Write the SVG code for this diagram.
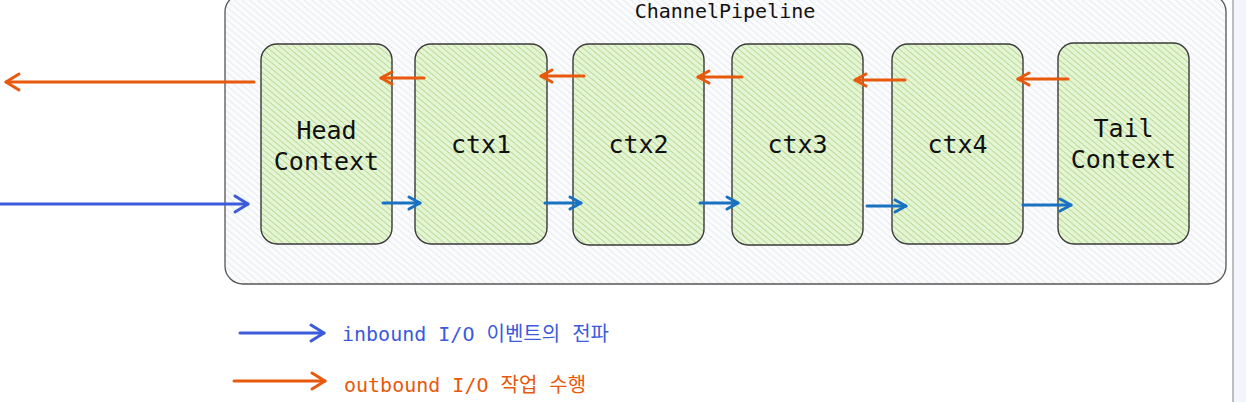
<svg xmlns="http://www.w3.org/2000/svg" width="1246" height="402" viewBox="0 0 1246 402">
  <defs>
    <pattern id="hatchGray" patternUnits="userSpaceOnUse" width="5" height="5" patternTransform="rotate(-50)">
      <rect width="5" height="5" fill="#fafbfc"/>
      <line x1="0" y1="0" x2="0" y2="5" stroke="#dcdfe3" stroke-width="1.2"/>
    </pattern>
    <pattern id="hatchGreen" patternUnits="userSpaceOnUse" width="4.5" height="4.5" patternTransform="rotate(-50)">
      <rect width="4.5" height="4.5" fill="#e6f4d6"/>
      <line x1="0" y1="0" x2="0" y2="4.5" stroke="#aad67f" stroke-width="1.5"/>
    </pattern>
    <marker id="arrOrange" markerUnits="userSpaceOnUse" markerWidth="20" markerHeight="22" refX="16" refY="11" orient="auto">
      <path d="M3,3 L16,11 L3,19" fill="none" stroke="#e8590c" stroke-width="3" stroke-linecap="round" stroke-linejoin="round"/>
    </marker>
    <marker id="arrOrangeS" markerUnits="userSpaceOnUse" markerWidth="18" markerHeight="18" refX="14" refY="9" orient="auto">
      <path d="M3,3 L14,9 L3,15" fill="none" stroke="#e8590c" stroke-width="3" stroke-linecap="round" stroke-linejoin="round"/>
    </marker>
    <marker id="arrBlueS" markerUnits="userSpaceOnUse" markerWidth="18" markerHeight="18" refX="14" refY="9" orient="auto">
      <path d="M3,3 L14,9 L3,15" fill="none" stroke="#1971c2" stroke-width="3" stroke-linecap="round" stroke-linejoin="round"/>
    </marker>
    <marker id="arrIndigo" markerUnits="userSpaceOnUse" markerWidth="20" markerHeight="22" refX="16" refY="11" orient="auto">
      <path d="M3,3 L16,11 L3,19" fill="none" stroke="#3b5bdb" stroke-width="3" stroke-linecap="round" stroke-linejoin="round"/>
    </marker>
  </defs>
  <style>
    .node rect { fill: url(#hatchGreen); stroke: #3a3a3a; stroke-width: 1.4; }
    .lbl { font-family: "DejaVu Sans Mono", "Liberation Mono", monospace; font-size: 25px; fill: #111; text-anchor: middle; }
    .title { font-family: "DejaVu Sans Mono", "Liberation Mono", monospace; font-size: 20px; fill: #111; text-anchor: middle; }
    .legend { font-family: "DejaVu Sans Mono", "Noto Sans CJK KR", monospace; font-size: 20px; }
    .or { stroke: #e8590c; stroke-width: 3; fill: none; stroke-linecap: round; }
    .bl { stroke: #1971c2; stroke-width: 3; fill: none; stroke-linecap: round; }
    .in { stroke: #3b5bdb; stroke-width: 3; fill: none; stroke-linecap: round; }
  </style>
  <rect width="1246" height="402" fill="#ffffff"/>
  <rect x="1233" y="0" width="13" height="402" fill="#f3f5fd"/>
  <line x1="1233" y1="0" x2="1233" y2="402" stroke="#a8a8a8" stroke-width="1.5"/>

  <g id="pipeline">
    <rect x="225" y="-6" width="1001" height="290" rx="18" fill="url(#hatchGray)" stroke="#555" stroke-width="1.3"/>
    <text class="title" x="725" y="18">ChannelPipeline</text>
  </g>

  <g id="head" class="node">
    <rect x="261" y="44" width="131" height="200" rx="16"/>
    <text class="lbl" x="326.5" y="139">Head</text>
    <text class="lbl" x="326.5" y="170">Context</text>
  </g>
  <g id="ctx1" class="node">
    <rect x="415" y="44" width="132" height="200" rx="16"/>
    <text class="lbl" x="481" y="153">ctx1</text>
  </g>
  <g id="ctx2" class="node">
    <rect x="573" y="44" width="131" height="201" rx="16"/>
    <text class="lbl" x="638.5" y="153">ctx2</text>
  </g>
  <g id="ctx3" class="node">
    <rect x="732" y="44" width="131" height="201" rx="16"/>
    <text class="lbl" x="797.5" y="153">ctx3</text>
  </g>
  <g id="ctx4" class="node">
    <rect x="892" y="44" width="131" height="200" rx="16"/>
    <text class="lbl" x="957.5" y="153">ctx4</text>
  </g>
  <g id="tail" class="node">
    <rect x="1058" y="43" width="131" height="201" rx="16"/>
    <text class="lbl" x="1123.5" y="137">Tail</text>
    <text class="lbl" x="1123.5" y="168">Context</text>
  </g>

  <g id="connectors">
    <line class="or" x1="254" y1="82" x2="6" y2="82" marker-end="url(#arrOrange)"/>
    <line class="or" x1="424" y1="78" x2="381" y2="78" marker-end="url(#arrOrangeS)"/>
    <line class="or" x1="584" y1="76" x2="541" y2="76" marker-end="url(#arrOrangeS)"/>
    <line class="or" x1="742" y1="77" x2="698" y2="77" marker-end="url(#arrOrangeS)"/>
    <line class="or" x1="905" y1="80" x2="855" y2="80" marker-end="url(#arrOrangeS)"/>
    <line class="or" x1="1068" y1="79" x2="1018" y2="79" marker-end="url(#arrOrangeS)"/>

    <line class="in" x1="0" y1="204" x2="248" y2="204" marker-end="url(#arrIndigo)"/>
    <line class="bl" x1="383" y1="203" x2="420" y2="203" marker-end="url(#arrBlueS)"/>
    <line class="bl" x1="545" y1="203" x2="581" y2="203" marker-end="url(#arrBlueS)"/>
    <line class="bl" x1="700" y1="203" x2="738" y2="203" marker-end="url(#arrBlueS)"/>
    <line class="bl" x1="867" y1="206" x2="906" y2="206" marker-end="url(#arrBlueS)"/>
    <line class="bl" x1="1023" y1="205" x2="1071" y2="205" marker-end="url(#arrBlueS)"/>
  </g>

  <g id="legend">
    <line class="in" x1="240" y1="333" x2="324" y2="333" marker-end="url(#arrIndigo)"/>
    <text class="legend" x="342" y="341" fill="#3b5bdb">inbound I/O 이벤트의 전파</text>
    <line class="or" x1="234" y1="381" x2="325" y2="381" marker-end="url(#arrOrange)"/>
    <text class="legend" x="344" y="392" fill="#e8590c">outbound I/O 작업 수행</text>
  </g>
</svg>
